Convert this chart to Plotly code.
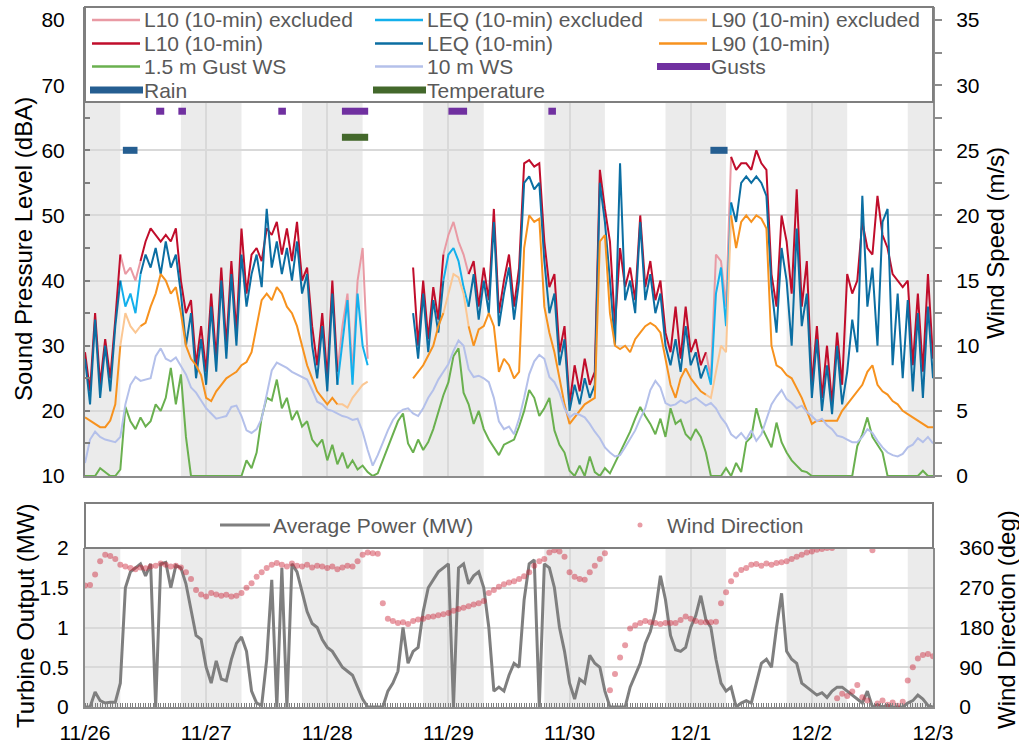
import plotly.graph_objects as go

W, H = 1019, 745
def X(px): return px / W
def Y(py): return 1 - py / H

N = None
# time base: hours since 11/26 00:00
hours = list(range(169))
day_ticks = [0, 24, 48, 72, 96, 120, 144, 168]
day_labels = ["11/26", "11/27", "11/28", "11/29", "11/30", "12/1", "12/2", "12/3"]

# ---- sound levels (dBA), hourly ----
L10 = [29, 23, 35, 24, 31, 25, 34, 44, 41, 42, 40, 43, 46, 48, 47, 46, 47, 46, 48, 40, 35, 37, 27, 33,
       26, 38, 28, 42, 30, 43, 32, 48, 38, 44, 45, 43, 48, 47, 49, 44, 48, 43, 49, 40, 42, 33, 27, 35,
       25, 40, 26, 33, 38, 26, 40, 45, 28, N, N, N, N, N, N, N, N, 42, 30, 40, 31, 39, 34, 44,
       47, 49, 46, 44, 41, 43, 36, 42, 37, 51, 35, 40, 44, 36, 42, 58, 58.5, 57.5, 58, 46, 39, 41, 29, 33,
       21, 27, 23, 28, 24, 26, 57, 51, 46, 33, 45, 39, 42, 37, 50, 39, 43, 37, 40, 32, 29, 36, 28, 36,
       29, 31, 27, 29, 25, 44, 43, 36, 59, 57, 58, 58, 57, 60, 58, 57, 41, 36, 50, 46, 38, 54, 36, 43,
       24, 33, 22, 30, 21, 32, 24, 41, 38, 40, 49, 45, 44, 53, 47, 45, 41, 40, 39, 40, 27, 38, 26, 41, 28]
LEQ = [28, 21, 34, 22, 30, 23, 33, 40, 36, 38, 35, 41, 44, 42, 45, 41, 46, 42, 44, 38, 30, 35, 25, 31,
       24, 36, 26, 40, 28, 41, 30, 44, 36, 41, 44, 39, 51, 42, 46, 41, 45, 40, 46, 38, 41, 30, 25, 33,
       23, 38, 24, 31, 37, 24, 38, 30, 27, N, N, N, N, N, N, N, N, 35, 28, 38, 29, 37, 32, 40,
       44, 45, 43, 39, 36, 41, 34, 40, 35, 49, 33, 38, 42, 34, 40, 55, 56, 54, 55, 43, 35, 38, 27, 31,
       20, 24, 21, 25, 22, 24, 55, 49, 40, 30, 58, 37, 40, 35, 49, 37, 41, 35, 38, 30, 27, 31, 26, 33,
       27, 29, 25, 27, 24, 38, 42, 33, 52, 49, 55, 56, 55, 56, 55, 53, 39, 32, 45, 40, 30, 48, 33, 38,
       22, 31, 20, 27, 19.5, 30, 21, 26, 34, 29, 53, 36, 42, 30, 49, 51, 27, 38, 25, 37, 23, 35, 22, 36, 25]
L90 = [19, 18.5, 18, 17.5, 17.5, 18.5, 21, 30, 35, 33, 32, 33, 33.5, 36, 38, 41, 40, 38, 39, 35, 30, 28, 27, 25.5,
       22, 21.5, 23, 24, 25, 25.5, 26, 27, 27.5, 29, 33, 37, 38, 37, 39, 38, 36, 35, 33, 30, 27, 25, 23, 22,
       21, 22, 21, 21, 20.5, 22, 23, 24, 24.5, N, N, N, N, N, N, N, N, 25, 26, 27, 28.5, 30, 33, 35,
       38, 41, 40.5, 38, 33, 30, 32.5, 33, 35, 33, 26, 28, 27, 25, 26, 45, 50, 49, 49.5, 36, 32, 29, 25, 21,
       18, 19, 20, 21, 21.5, 22, 46, 47, 35, 30, 29.5, 30, 29, 31, 32, 33, 33.5, 33, 32, 28, 24, 22, 25, 26.5,
       25, 24, 23, 22.5, 22, 26, 30, 29, 50, 45, 49, 50, 49, 50, 49.5, 48, 30, 27, 26.5, 25.5, 25, 23.5, 22, 20,
       18, 18.5, 18.5, 18.5, 18.5, 18.5, 20, 21, 22, 23, 24, 26, 27, 24, 23, 22.5, 21.5, 21, 20, 19.5, 19, 18.5, 18, 17.5, 17.5]

# ---- wind speeds (m/s), hourly ----
WS10 = [1.0, 2.8, 3.4, 3.0, 2.8, 2.7, 2.6, 3.0, 5.5, 7.0, 7.6, 7.3, 7.4, 7.5, 9.2, 9.8, 9.0, 8.8, 9.1, 8.5, 7.8, 6.8, 6.4, 5.8,
        5.2, 4.8, 4.4, 4.5, 4.6, 5.3, 5.4, 4.6, 3.5, 3.3, 3.6, 4.4, 6.2, 8.1, 8.7, 8.5, 8.3, 8.0, 7.8, 7.6, 7.4, 6.6, 5.7, 5.5,
        5.1, 5.0, 4.8, 4.6, 4.5, 4.3, 4.4, 3.4, 2.0, 0.8, 1.6, 2.6, 3.5, 4.3, 4.8, 5.1, 5.2, 4.8, 4.6, 5.2, 6.0, 6.6, 7.4, 8.0,
        8.6, 9.6, 10.4, 10.0, 8.2, 7.6, 7.7, 7.5, 7.2, 6.0, 4.2, 3.6, 3.8, 3.2, 4.4, 6.0, 7.8, 8.8, 9.3, 9.0, 7.6, 7.2, 6.4, 5.2,
        4.5, 4.8, 4.7, 4.5, 4.0, 3.4, 2.9, 2.2, 1.8, 1.5, 1.6, 2.2, 2.8, 3.5, 4.4, 5.2, 6.6, 7.3, 6.8, 5.6, 5.4, 5.5, 5.8, 5.6,
        5.8, 6.0, 5.7, 5.4, 5.6, 5.2, 4.5, 4.0, 3.2, 2.9, 3.3, 2.8, 3.5, 2.7, 3.2, 4.4, 5.5, 6.1, 6.6, 5.9, 5.6, 5.2, 5.4, 4.9,
        4.6, 4.2, 4.4, 3.9, 3.6, 3.1, 3.0, 2.8, 2.6, 2.6, 3.0, 3.6, 3.3, 2.7, 2.2, 1.8, 1.6, 1.5, 1.7, 2.2, 2.4, 2.9, 2.6, 3.0, 2.5]
GUST_WS = [0, 0, 0, 0.6, 0.3, 0, 0, 0.5, 5.3, 4.2, 3.6, 4.5, 3.8, 4.2, 5.5, 5.0, 6.0, 8.3, 5.5, 7.8, 3.0, 0, 0, 0,
           0, 0, 0, 0, 0, 0, 0, 0, 1.2, 0.6, 1.8, 4.5, 6.0, 5.8, 7.4, 5.2, 6.0, 4.3, 5.0, 3.8, 4.2, 2.8, 2.3, 2.8,
           1.2, 2.4, 0.9, 1.8, 0.6, 1.2, 0.5, 0.8, 0.3, 0, 0.2, 1.2, 2.2, 3.2, 4.2, 4.8, 2.5, 1.8, 2.8, 2.0, 2.6, 3.6, 5.0, 6.2,
           7.2, 9.2, 9.8, 6.4, 5.5, 4.0, 5.0, 3.6, 2.8, 2.2, 1.6, 2.4, 2.6, 2.8, 3.8, 5.0, 6.6, 6.0, 4.6, 5.2, 6.0, 3.5, 2.4, 1.8,
           0.4, 0, 0.8, 0, 1.5, 0.3, 0, 0.6, 0.2, 1.0, 1.8, 2.6, 3.4, 4.4, 5.3, 4.6, 4.0, 3.2, 4.4, 3.0, 5.2, 4.0, 4.3, 3.2,
           2.8, 3.6, 3.0, 1.8, 0, 0, 0, 0.6, 0, 1.0, 0.3, 2.6, 3.0, 5.2, 3.8, 3.0, 2.2, 4.1, 2.6, 1.8, 1.2, 0.8, 0.4, 0.3,
           0, 0, 0, 0, 0, 0, 0, 0, 0, 2.3, 3.2, 4.5, 3.0, 2.4, 1.8, 0, 0, 0, 0, 0, 0, 0, 0.4, 0, 0]

# ---- turbine (MW) and wind direction (deg), hourly ----
POWER = [0, 0, 0.19, 0.08, 0.05, 0.06, 0.06, 0.3, 1.5, 1.7, 1.75, 1.8, 1.65, 1.8, 0, 1.8, 1.82, 1.5, 1.78, 1.75, 1.55, 1.2, 0.9, 0.85,
         0.5, 0.3, 0.58, 0.35, 0.33, 0.6, 0.8, 0.88, 0.7, 0.2, 0.05, 0.02, 0.6, 1.6, 0, 1.75, 0, 1.8, 1.7, 1.45, 1.2, 1.05, 1.0, 0.85,
         0.75, 0.7, 0.6, 0.5, 0.45, 0.4, 0.25, 0.1, 0, 0, 0, 0, 0.2, 0.3, 0.45, 1.0, 0.55, 0.7, 0.75, 1.2, 1.5, 1.6, 1.7, 1.75,
         1.8, 0, 1.75, 1.8, 1.55, 1.65, 1.7, 1.5, 1.0, 0.2, 0.25, 0.2, 0.4, 0.55, 0.5, 1.35, 1.8, 1.85, 0, 1.8, 1.75, 1.5, 1.0, 0.7,
         0.3, 0.1, 0.35, 0.3, 0.65, 0.55, 0.5, 0.2, 0, 0, 0, 0, 0.25, 0.4, 0.55, 0.8, 0.95, 1.2, 1.65, 1.35, 0.9, 0.72, 0.7, 0.75,
         1.0, 1.15, 1.4, 1.1, 1.0, 0.6, 0.3, 0.2, 0.25, 0, 0.05, 0.08, 0.05, 0.3, 0.55, 0.6, 0.5, 1.0, 1.43, 0.7, 0.6, 0.55, 0.3, 0.25,
         0.2, 0.15, 0.18, 0.12, 0.2, 0.25, 0.25, 0.2, 0.15, 0.1, 0.05, 0.2, 0, 0.03, 0, 0.02, 0, 0, 0, 0.05, 0.08, 0.15, 0.1, 0.02, 0]
WIND_DIR = [275, 276, 300, 330, 345, 342, 335, 322, 318, 315, 312, 316, 314, 318, 320, 325, 322, 318, 320, 316, 305, 290, 265, 255,
            250, 258, 255, 252, 254, 250, 252, 258, 270, 280, 295, 305, 315, 322, 326, 322, 318, 325, 320, 318, 322, 316, 320, 318,
            315, 318, 312, 316, 320, 318, 330, 345, 350, 348, 347, 235, 200, 195, 190, 192, 188, 195, 198, 200, 204, 205, 208, 210,
            213, 218, 222, 225, 228, 232, 235, 240, 258, 265, 272, 278, 282, 285, 290, 296, 305, 320, 330, 335, 350, 355, 352, 340,
            305, 295, 290, 288, 305, 320, 335, 348, 38, 75, 112, 140, 178, 185, 190, 195, 192, 190, 188, 190, 190, 190, 197, 205,
            200, 195, 192, 192, 192, 193, 235, 260, 285, 300, 310, 315, 322, 324, 320, 325, 322, 326, 328, 330, 335, 340, 345, 350,
            352, 356, 358, 360, 360, 20, 30, 25, 35, 50, 22, 15, 355, 8, 15, 5, 10, 3, 12, 60, 90, 110, 118, 120, 115]

EXCLUDED_HOURS = [8, 9, 10, 51, 52, 53, 54, 55, 56, 72, 73, 74, 75, 124, 125, 126, 127]
GUST_PERIODS = [(14.1, 15.7), (18.5, 20.0), (38.3, 39.8), (50.9, 56.1), (72.0, 75.7), (91.8, 93.3)]
TEMP_PERIODS = [(50.9, 56.1)]
RAIN_PERIODS = [(7.5, 10.4), (123.9, 127.3)]
NIGHTS = [(0, 7), (19, 31), (43, 55), (67, 79), (91, 103), (115, 127), (139, 151), (163, 168)]
GUST_LEVEL, TEMP_LEVEL, RAIN_LEVEL = 66, 62, 60

C_L10, C_L10X = "#c00d2b", "#e99aa4"
C_LEQ, C_LEQX = "#0b6ea2", "#13b0ec"
C_L90, C_L90X = "#f7921e", "#fbc793"
C_GUSTWS, C_WS10 = "#6ab04f", "#b4c0ea"
C_GUSTS, C_RAIN, C_TEMP = "#7030a0", "#255e91", "#43682b"
C_POWER, C_DIR = "#7f7f7f", "rgba(205,35,55,0.45)"
GRID = "#d9d9d9"
AXL = "#8c8c8c"
FONT = "Liberation Sans, Arial, sans-serif"

excl = set(EXCLUDED_HOURS)
def split(vals):
    normal = [v if h not in excl else None for h, v in zip(hours, vals)]
    ex = [v if (h in excl or (h - 1) in excl or (h + 1) in excl) else None for h, v in zip(hours, vals)]
    return normal, ex

def bars(periods, level):
    xs, ys = [], []
    for a, b in periods:
        xs += [a, b, None]
        ys += [level, level, None]
    return xs, ys

fig = go.Figure()
l10n, l10x = split(L10)
leqn, leqx = split(LEQ)
l90n, l90x = split(L90)

def line(x, y, color, width, xa="x", ya="y"):
    fig.add_trace(go.Scatter(x=x, y=y, mode="lines", line=dict(color=color, width=width),
                             xaxis=xa, yaxis=ya, showlegend=False, hoverinfo="skip"))

line(hours, l10x, C_L10X, 2)
line(hours, l10n, C_L10, 2)
line(hours, leqx, C_LEQX, 2)
line(hours, leqn, C_LEQ, 2)
line(hours, l90x, C_L90X, 2)
line(hours, l90n, C_L90, 2)
line(hours, GUST_WS, C_GUSTWS, 2, ya="y2")
line(hours, WS10, C_WS10, 2, ya="y2")
for periods, level, col in [(GUST_PERIODS, GUST_LEVEL, C_GUSTS), (TEMP_PERIODS, TEMP_LEVEL, C_TEMP),
                            (RAIN_PERIODS, RAIN_LEVEL, C_RAIN)]:
    bx, by = bars(periods, level)
    line(bx, by, col, 7)

line(hours, POWER, C_POWER, 3, xa="x2", ya="y3")
fig.add_trace(go.Scatter(x=hours, y=WIND_DIR, mode="markers", marker=dict(color=C_DIR, size=6),
                         xaxis="x2", yaxis="y4", showlegend=False, hoverinfo="skip"))

shapes = []
for a, b in NIGHTS:
    for xr, yr in [("x", "y domain"), ("x2", "y3 domain")]:
        shapes.append(dict(type="rect", xref=xr, yref=yr, x0=a, x1=b, y0=0, y1=1,
                           fillcolor="#ebebeb", line=dict(width=0), layer="below"))
# legend boxes
shapes.append(dict(type="rect", xref="paper", yref="paper", x0=X(85), x1=X(933), y0=Y(102), y1=Y(7),
                   fillcolor="white", line=dict(color="#7f7f7f", width=2), layer="above"))
shapes.append(dict(type="rect", xref="paper", yref="paper", x0=X(85), x1=X(933), y0=Y(548), y1=Y(503),
                   fillcolor="white", line=dict(color="#7f7f7f", width=2), layer="above"))

annotations = []
def legend_item(x0, x1, y, color, width, text, tx):
    shapes.append(dict(type="line", xref="paper", yref="paper", x0=X(x0), x1=X(x1), y0=Y(y), y1=Y(y),
                       line=dict(color=color, width=width), layer="above"))
    annotations.append(dict(xref="paper", yref="paper", x=X(tx), y=Y(y), text=text, showarrow=False,
                            xanchor="left", yanchor="middle", font=dict(size=21, color="#595959", family=FONT)))

rows = [20, 43.5, 66.5, 90]
legend_item(92, 140, rows[0], C_L10X, 2.5, "L10 (10-min) excluded", 142)
legend_item(375, 423, rows[0], C_LEQX, 2.5, "LEQ (10-min) excluded", 425)
legend_item(659, 707, rows[0], C_L90X, 2.5, "L90 (10-min) excluded", 709)
legend_item(92, 140, rows[1], C_L10, 2.5, "L10 (10-min)", 142)
legend_item(375, 423, rows[1], C_LEQ, 2.5, "LEQ (10-min)", 425)
legend_item(659, 707, rows[1], C_L90, 2.5, "L90 (10-min)", 709)
legend_item(92, 140, rows[2], C_GUSTWS, 2.5, "1.5 m Gust WS", 142)
legend_item(375, 423, rows[2], C_WS10, 2.5, "10 m WS", 425)
legend_item(657, 710, rows[2], C_GUSTS, 7, "Gusts", 709)
legend_item(90, 143, rows[3], C_RAIN, 7, "Rain", 142)
legend_item(373, 426, rows[3], C_TEMP, 7, "Temperature", 425)
legend_item(220, 270, 525, C_POWER, 3, "Average Power (MW)", 271)
shapes.append(dict(type="circle", xref="paper", yref="paper", x0=X(637.5), x1=X(642.5), y0=Y(527.5), y1=Y(522.5),
                   fillcolor=C_DIR, line=dict(width=0), layer="above"))
annotations.append(dict(xref="paper", yref="paper", x=X(665), y=Y(525), text="Wind Direction", showarrow=False,
                        xanchor="left", yanchor="middle", font=dict(size=21, color="#595959", family=FONT)))

def title(text, px, py):
    annotations.append(dict(xref="paper", yref="paper", x=X(px), y=Y(py), text=text, showarrow=False,
                            textangle=-90, xanchor="center", yanchor="middle",
                            font=dict(size=24, color="black", family=FONT)))
title("Sound Pressure Level (dBA)", 23, 249)
title("Wind Speed (m/s)", 995, 243)
title("Turbine Output (MW)", 25, 616)
title("Wind Direction (deg)", 1006, 620)

tickfont = dict(size=21, color="black", family=FONT)
xdom = [X(85), X(933)]
common = dict(automargin=False, zeroline=False)
fig.update_layout(
    template="none",
    width=W, height=745, margin=dict(l=0, r=0, t=0, b=0, pad=0, autoexpand=False),
    plot_bgcolor="white", paper_bgcolor="white", showlegend=False,
    font=dict(family=FONT),
    shapes=shapes, annotations=annotations,
    xaxis=dict(domain=xdom, anchor="y", range=[0, 168], tickvals=day_ticks, showticklabels=False,
               showgrid=True, gridcolor=GRID, gridwidth=2, showline=True, linecolor=AXL, linewidth=2,
               ticks="", **common),
    yaxis=dict(domain=[Y(476), Y(7)], anchor="x", range=[10, 82], tickvals=list(range(10, 81, 10)),
               showgrid=True, gridcolor=GRID, gridwidth=2, showline=True, linecolor="#7f7f7f", linewidth=2,
               ticks="inside", ticklen=5, tickcolor="#7f7f7f", tickwidth=1.5,
               minor=dict(tickmode="linear", tick0=15, dtick=10, ticks="inside", ticklen=5,
                          tickcolor="#7f7f7f", showgrid=False),
               tickfont=tickfont, ticklabelstandoff=14, **common),
    yaxis2=dict(overlaying="y", side="right", anchor="x", range=[0, 36], tickvals=list(range(0, 36, 5)),
                showgrid=False, showline=True, linecolor=AXL, linewidth=2,
                ticks="outside", ticklen=7, tickcolor="#8c8c8c", tickwidth=1.5,
                minor=dict(tickmode="linear", tick0=2.5, dtick=5, ticks="outside", ticklen=7,
                           tickcolor="#8c8c8c", showgrid=False),
                tickfont=tickfont, ticklabelstandoff=10, **common),
    xaxis2=dict(domain=xdom, anchor="y3", range=[0, 168], tickvals=day_ticks, ticktext=day_labels,
                showgrid=True, gridcolor=GRID, gridwidth=2, showline=True, linecolor=AXL, linewidth=2,
                ticks="",
                minor=dict(tickmode="linear", tick0=0, dtick=0.5, ticks="inside", ticklen=4,
                           tickcolor="#7f7f7f", showgrid=False),
                tickfont=tickfont, ticklabelstandoff=6, **common),
    yaxis3=dict(domain=[Y(707), Y(548)], anchor="x2", range=[0, 2], tickvals=[0, 0.5, 1, 1.5, 2],
                ticktext=["0", "0.5", "1", "1.5", "2"], showgrid=True, gridcolor=GRID, gridwidth=2,
                showline=True, linecolor=AXL, linewidth=2, ticks="",
                tickfont=tickfont, ticklabelstandoff=10, **common),
    yaxis4=dict(overlaying="y3", side="right", anchor="x2", range=[0, 360], tickvals=[0, 90, 180, 270, 360],
                showgrid=False, showline=True, linecolor=AXL, linewidth=2, ticks="",
                tickfont=tickfont, ticklabelstandoff=20, **common),
)

fig.write_html("out.html", config={"displayModeBar": False},
               post_script="document.body.style.margin='0';document.body.style.padding='0';"
                           "document.documentElement.style.overflow='hidden';")
